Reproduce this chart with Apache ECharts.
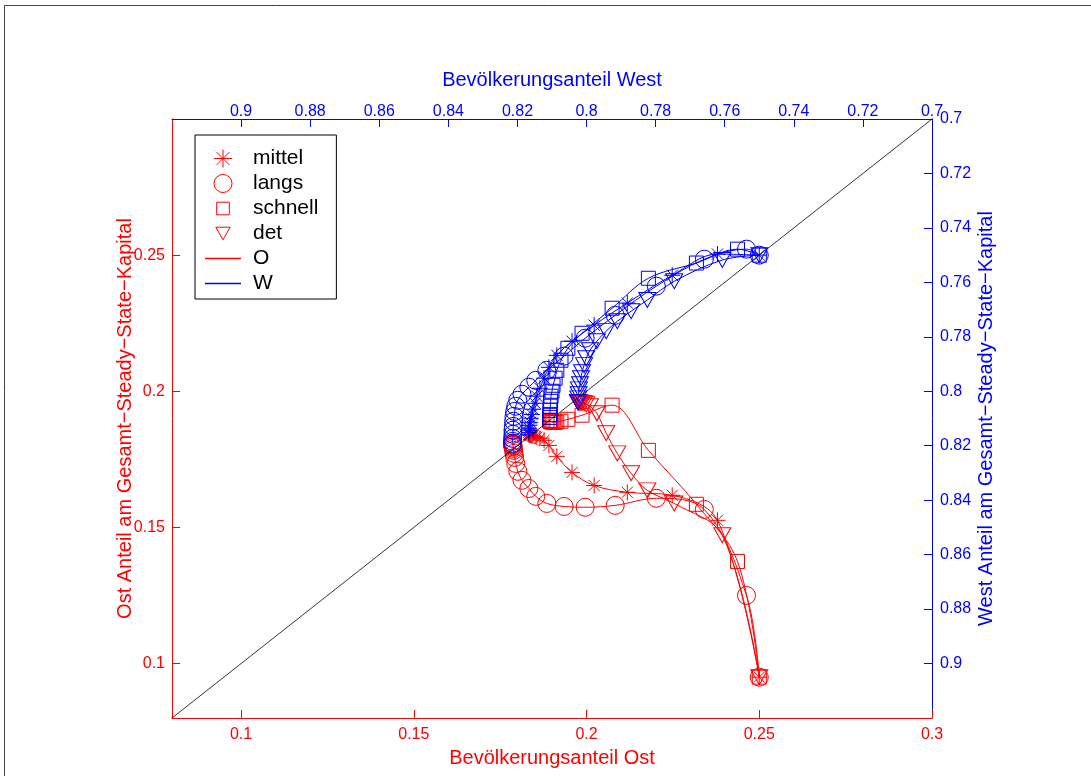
<!DOCTYPE html>
<html><head><meta charset="utf-8">
<script src="https://cdn.jsdelivr.net/npm/echarts@6/dist/echarts.min.js"></script>
<style>html,body{margin:0;padding:0;background:#fff}#c{width:1091px;height:776px}</style>
</head><body><div id="c"></div>
<script>
// ---- tick labels ----
const bottomTicks = [0.1, 0.15, 0.2, 0.25, 0.3];
const leftTicks = [0.1, 0.15, 0.2, 0.25];
const topTicks = [0.9, 0.88, 0.86, 0.84, 0.82, 0.8, 0.78, 0.76, 0.74, 0.72, 0.7];
const rightTicks = [0.7, 0.72, 0.74, 0.76, 0.78, 0.8, 0.82, 0.84, 0.86, 0.88, 0.9];
const diagonal = [0.08, 0.3];
const legendNames = ['mittel', 'langs', 'schnell', 'det', 'O', 'W'];

// ---- mittel ----
const mittelOstPop = [0.25, 0.2379, 0.2248, 0.2118, 0.2022, 0.1958, 0.1914, 0.1891, 0.1877, 0.1865, 0.1856, 0.1851, 0.1845, 0.1842, 0.1839, 0.1837, 0.1835, 0.1834, 0.1833, 0.1833];
const mittelOstCap = [0.095, 0.1526, 0.1618, 0.1629, 0.1654, 0.1702, 0.1761, 0.1801, 0.1820, 0.1827, 0.1831, 0.1834, 0.1836, 0.1837, 0.1838, 0.1839, 0.1840, 0.1841, 0.1842, 0.1842];
const mittelWestPop = [0.75, 0.7621, 0.7752, 0.7882, 0.7978, 0.8042, 0.8086, 0.8109, 0.8123, 0.8135, 0.8144, 0.8149, 0.8155, 0.8158, 0.8161, 0.8163, 0.8165, 0.8166, 0.8167, 0.8167];
const mittelWestCap = [0.75, 0.7496, 0.7574, 0.7676, 0.7757, 0.7816, 0.7868, 0.7912, 0.7952, 0.7989, 0.8018, 0.8044, 0.8066, 0.8085, 0.8099, 0.8114, 0.8125, 0.8136, 0.8143, 0.8151];

// ---- langs ----
const langsOstPop = [0.25, 0.2463, 0.2341, 0.2202, 0.2083, 0.1996, 0.1935, 0.1885, 0.1853, 0.1833, 0.1813, 0.1801, 0.1795, 0.1792, 0.1790, 0.1789, 0.1788, 0.1787, 0.1787, 0.1786, 0.1786, 0.1786];
const langsOstCap = [0.095, 0.1250, 0.1566, 0.1607, 0.1581, 0.1574, 0.1577, 0.1588, 0.1614, 0.1643, 0.1673, 0.1706, 0.1735, 0.1757, 0.1772, 0.1783, 0.1790, 0.1796, 0.1800, 0.1803, 0.1805, 0.1807];
const langsWestPop = [0.75, 0.7537, 0.7659, 0.7798, 0.7917, 0.8004, 0.8065, 0.8115, 0.8147, 0.8167, 0.8187, 0.8199, 0.8205, 0.8208, 0.8210, 0.8211, 0.8212, 0.8213, 0.8213, 0.8214, 0.8214, 0.8214];
const langsWestCap = [0.75, 0.7478, 0.7515, 0.7614, 0.7721, 0.7805, 0.7871, 0.7923, 0.7960, 0.7985, 0.8011, 0.8033, 0.8055, 0.8074, 0.8092, 0.8110, 0.8129, 0.8143, 0.8158, 0.8173, 0.8184, 0.8191];

// ---- schnell ----
const schnellOstPop = [0.25, 0.2437, 0.2318, 0.2179, 0.2074, 0.1987, 0.1946, 0.1926, 0.1914, 0.1909, 0.1903, 0.1900, 0.1897, 0.1896, 0.1895, 0.1894, 0.1894, 0.1893];
const schnellOstCap = [0.095, 0.1375, 0.1585, 0.1783, 0.1949, 0.1912, 0.1897, 0.1890, 0.1887, 0.1886, 0.1886, 0.1887, 0.1888, 0.1889, 0.1890, 0.1891, 0.1892, 0.1893];
const schnellWestPop = [0.75, 0.7563, 0.7682, 0.7821, 0.7926, 0.8013, 0.8054, 0.8074, 0.8086, 0.8091, 0.8097, 0.8100, 0.8103, 0.8104, 0.8105, 0.8106, 0.8106, 0.8107];
const schnellWestCap = [0.75, 0.7478, 0.7529, 0.7585, 0.7695, 0.7787, 0.7842, 0.7886, 0.7923, 0.7952, 0.7978, 0.8000, 0.8018, 0.8037, 0.8055, 0.8070, 0.8085, 0.8096];

// ---- det ----
const detOstPop = [0.25, 0.2393, 0.2254, 0.2176, 0.2129, 0.2089, 0.2057, 0.2030, 0.2010, 0.1999, 0.1993, 0.1987, 0.1984, 0.1981, 0.1978, 0.1977, 0.1976, 0.1975];
const detOstCap = [0.095, 0.1471, 0.1588, 0.1636, 0.1699, 0.1772, 0.1846, 0.1919, 0.1945, 0.1952, 0.1956, 0.1957, 0.1958, 0.1958, 0.1959, 0.1959, 0.1960, 0.1960];
const detWestPop = [0.75, 0.7607, 0.7746, 0.7824, 0.7871, 0.7911, 0.7943, 0.7970, 0.7990, 0.8001, 0.8007, 0.8013, 0.8016, 0.8019, 0.8022, 0.8023, 0.8024, 0.8025];
const detWestCap = [0.75, 0.7518, 0.7596, 0.7665, 0.7706, 0.7743, 0.7779, 0.7816, 0.7849, 0.7879, 0.7904, 0.7930, 0.7952, 0.7974, 0.7993, 0.8011, 0.8026, 0.8040];

const RED = '#ff0000', BLUE = '#0000ff';
const FONT = '"Liberation Sans", Arial, Helvetica, sans-serif';
const STAR = 'path://M10,0L10,20M0,10L20,10M3,3L17,17M3,17L17,3';
const TRI = 'path://M0,0L20,0L10,17Z';
const SYM = {
  mittel: {symbol: STAR, size: 16},
  langs: {symbol: 'circle', size: 18},
  schnell: {symbol: 'rect', size: 14},
  det: {symbol: TRI, size: [17, 15]}
};
const zip = (a, b) => a.map((v, i) => [v, b[i]]);

const scen = [
  ['mittel', mittelOstPop, mittelOstCap, mittelWestPop, mittelWestCap],
  ['langs', langsOstPop, langsOstCap, langsWestPop, langsWestCap],
  ['schnell', schnellOstPop, schnellOstCap, schnellWestPop, schnellWestCap],
  ['det', detOstPop, detOstCap, detWestPop, detWestCap]
];

function mk(name, data, color, xi, yi, key) {
  return {
    type: 'line', name: name, data: data, xAxisIndex: xi, yAxisIndex: yi,
    symbol: SYM[key].symbol, symbolSize: SYM[key].size, showAllSymbol: true,
    smooth: 0.35, animation: false,
    lineStyle: {color: color, width: 1},
    itemStyle: {color: 'transparent', borderColor: color, borderWidth: 1},
    emphasis: {disabled: true}, z: 2
  };
}
const series = [];
scen.forEach(s => series.push(mk(s[0], zip(s[1], s[2]), RED, 0, 0, s[0])));
scen.forEach(s => series.push(mk(s[0] + ' W', zip(s[3], s[4]), BLUE, 1, 1, s[0])));
series.push({type: 'line', name: 'O', data: [], symbol: 'none', color: RED, lineStyle: {color: RED, width: 1}, itemStyle: {color: RED}});
series.push({type: 'line', name: 'W', data: [], symbol: 'none', color: BLUE, lineStyle: {color: BLUE, width: 1}, itemStyle: {color: BLUE}});
series.push({type: 'line', name: 'diag', data: [[diagonal[0], diagonal[0]], [diagonal[1], diagonal[1]]],
  symbol: 'none', color: '#000', lineStyle: {color: '#000', width: 0.8}, z: 5, animation: false, silent: true});

function axis(pos, min, max, inverse, ticks, color, name, nameGap, labelMargin) {
  return {
    type: 'value', position: pos, min: min, max: max, inverse: inverse,
    splitLine: {show: false},
    axisLine: {show: true, onZero: false, lineStyle: {color: color, width: 1}},
    axisTick: {show: true, inside: true, length: 8, customValues: ticks, lineStyle: {color: color}},
    axisLabel: {show: true, customValues: ticks, color: color, fontSize: 16, fontFamily: FONT, margin: labelMargin,
      showMinLabel: true, showMaxLabel: true, formatter: v => String(v)},
    name: name, nameLocation: 'middle', nameGap: nameGap, nameMoveOverlap: false,
    nameTextStyle: {color: color, fontSize: 20, fontFamily: FONT}
  };
}

const legendIcons = {
  mittel: STAR,
  langs: 'circle',
  schnell: 'path://M0,0M20,20M3,3L17,3L17,17L3,17Z',
  det: 'path://M0,0M20,20M2,3L18,3L10,17Z'
};
const LINEICON = 'path://M0,0L36,0L36,1.5L0,1.5Z';

const option = {
  animation: false,
  backgroundColor: '#fff',
  grid: {left: 172, right: 159, top: 119, bottom: 58, containLabel: false},
  xAxis: [
    axis('bottom', 0.08, 0.3, false, bottomTicks, RED, 'Bevölkerungsanteil Ost', 30, 9),
    axis('top', 0.7, 0.92, true, topTicks, BLUE, 'Bevölkerungsanteil West', 29, -1)
  ],
  yAxis: [
    axis('left', 0.08, 0.3, false, leftTicks, RED, 'Ost Anteil am Gesamt−Steady−State−Kapital', 37, 7),
    axis('right', 0.7, 0.92, true, rightTicks, BLUE, 'West Anteil am Gesamt−Steady−State−Kapital', 44, 8)
  ],
  legend: {
    orient: 'vertical', left: 195, top: 135, padding: [13, 18, 5, 10],
    itemWidth: 36, itemHeight: 18, itemGap: 4,
    backgroundColor: '#fff', borderColor: '#000', borderWidth: 1, borderRadius: 0,
    selectedMode: false,
    textStyle: {fontSize: 21, color: '#000', fontFamily: FONT, padding: [0, 0, 0, 7]},
    data: legendNames.map(n => {
      if (n === 'O' || n === 'W') {
        const c = n === 'O' ? RED : BLUE;
        return {name: n, icon: LINEICON, itemStyle: {color: c, borderColor: c, borderWidth: 0, opacity: 1}};
      }
      return {name: n, icon: legendIcons[n], itemStyle: {color: 'transparent', borderColor: RED, borderWidth: 1}};
    })
  },
  graphic: [{type: 'rect', silent: true, z: -10,
    shape: {x: 4.5, y: 5.5, width: 1200, height: 1000},
    style: {fill: 'none', stroke: '#444', lineWidth: 1}}],
  series: series
};

const chart = echarts.init(document.getElementById('c'), null, {renderer: 'canvas'});
chart.setOption(option);
</script>
</body></html>
